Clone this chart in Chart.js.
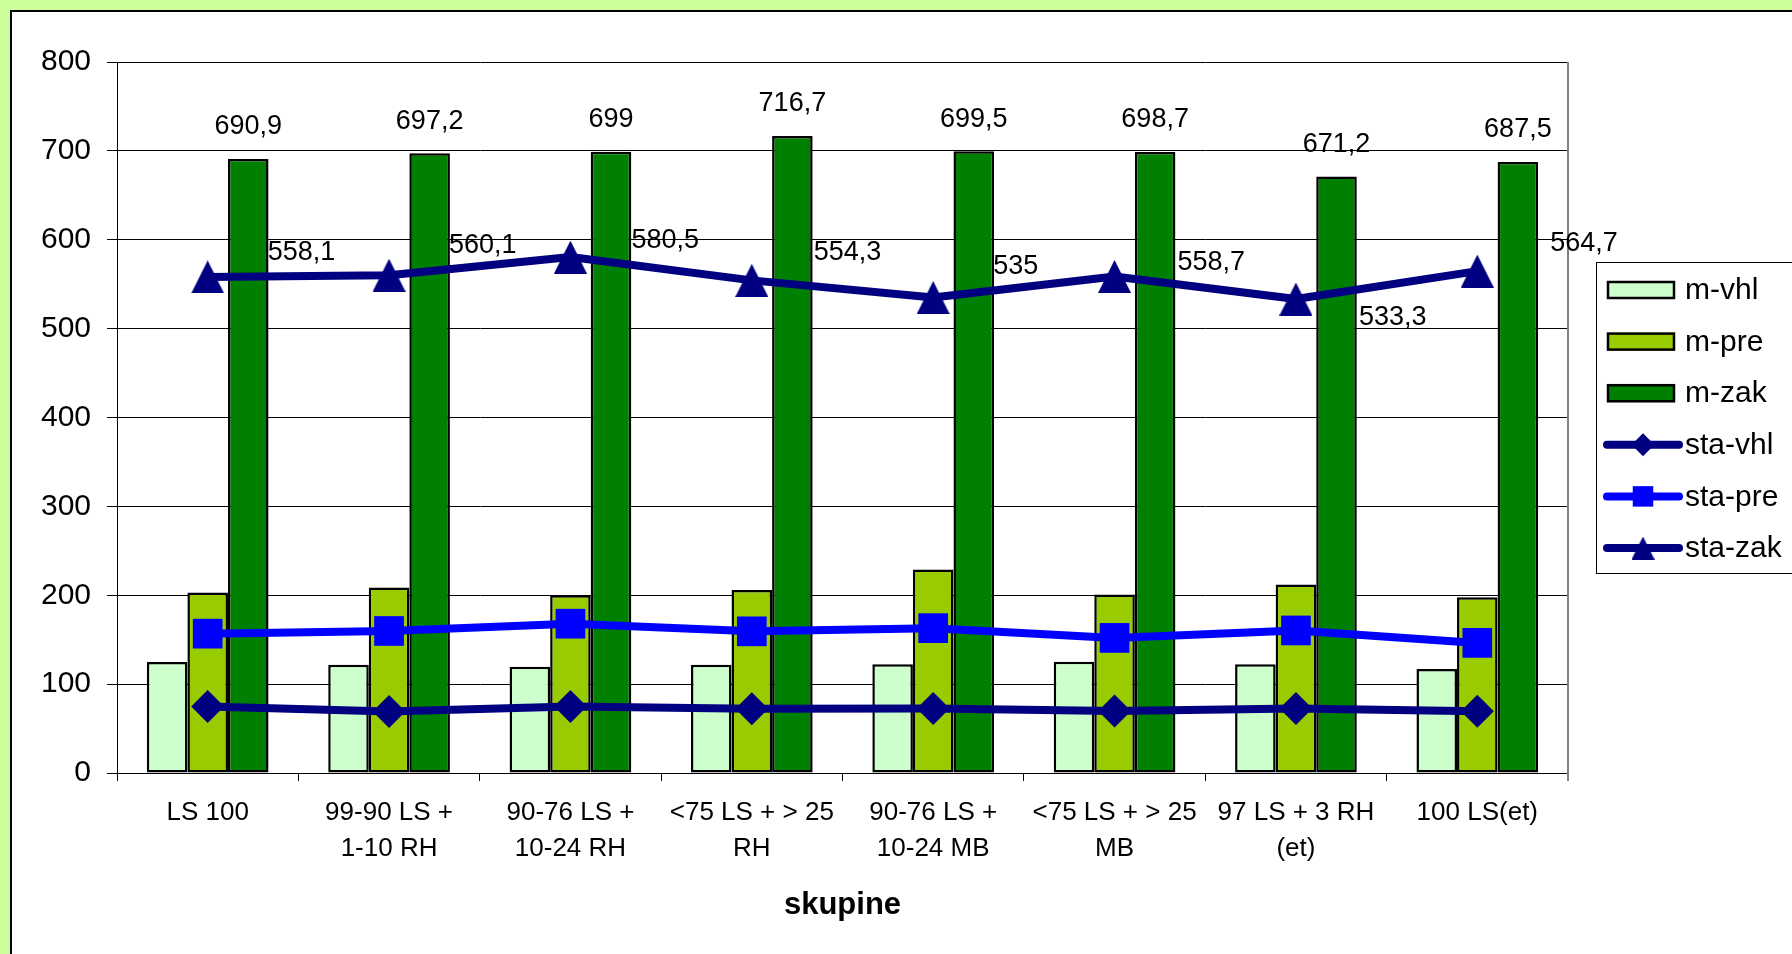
<!DOCTYPE html>
<html><head><meta charset="utf-8">
<script src="https://cdn.jsdelivr.net/npm/chart.js@4.4.1/dist/chart.umd.min.js"></script>
<style>
html,body{margin:0;padding:0;background:#ccff99;width:1792px;height:954px;overflow:hidden;}
#frame{position:absolute;left:10px;top:10px;width:1800px;height:960px;background:#fff;border-left:2px solid #000;border-top:2px solid #000;}
#c{position:absolute;left:0;top:0;}
</style></head><body>
<div id="frame"></div>
<canvas id="c" width="1792" height="954"></canvas>
<script>
// ---- data ----
const categories = [
  ['LS 100'],
  ['99-90 LS +', '1-10 RH'],
  ['90-76 LS +', '10-24 RH'],
  ['<75 LS + > 25', 'RH'],
  ['90-76 LS +', '10-24 MB'],
  ['<75 LS + > 25', 'MB'],
  ['97 LS + 3 RH', '(et)'],
  ['100 LS(et)']
];
const mVhl   = [124.8, 121.8, 119.5, 121.8, 122.3, 125.3, 122.3, 117.0];
const mPre   = [203.0, 208.6, 200.0, 206.0, 229.0, 200.8, 212.0, 197.7];
const mZak   = [690.9, 697.2, 699, 716.7, 699.5, 698.7, 671.2, 687.5];
const staVhl = [74.8, 69.2, 74.8, 72.2, 72.5, 69.8, 72.5, 69.4];
const staPre = [156.8, 159.8, 168.0, 159.4, 163.0, 152.0, 160.4, 146.4];
const staZak = [558.1, 560.1, 580.5, 554.3, 535, 558.7, 533.3, 564.7];
const yTicks = [0, 100, 200, 300, 400, 500, 600, 700, 800];

const FONT = "'Liberation Sans', Arial, sans-serif";

function makeTriangle(size, color) {
  const c = document.createElement('canvas');
  c.width = size; c.height = size;
  const x = c.getContext('2d');
  x.fillStyle = color;
  x.beginPath(); x.moveTo(size / 2, 0); x.lineTo(size, size); x.lineTo(0, size); x.closePath(); x.fill();
  return c;
}
const triBig = makeTriangle(33, '#000080');
const triSmall = makeTriangle(23, '#000080');

const fmt = v => String(v).replace('.', ',');

const valueLabels = {
  id: 'valueLabels',
  afterDatasetsDraw(chart, args, o) {
    const ctx = chart.ctx;
    ctx.save();
    ctx.font = '27px ' + FONT;
    ctx.fillStyle = '#000';
    ctx.textBaseline = 'middle';
    ctx.textAlign = 'center';
    const bm = chart.getDatasetMeta(2);
    bm.data.forEach((el, i) => ctx.fillText(fmt(chart.data.datasets[2].data[i]), el.x, el.y + o.barDy));
    ctx.textAlign = 'left';
    const lm = chart.getDatasetMeta(5);
    lm.data.forEach((el, i) => ctx.fillText(fmt(chart.data.datasets[5].data[i]), el.x + o.dx[i], el.y + o.dy[i]));
    ctx.restore();
  }
};

const plotBorder = {
  id: 'plotBorder',
  beforeDatasetsDraw(chart) {
    const {ctx, chartArea: a} = chart;
    ctx.save();
    ctx.strokeStyle = '#808080';
    ctx.lineWidth = 2;
    ctx.beginPath();
    ctx.moveTo(a.right, a.top);
    ctx.lineTo(a.right, a.bottom + 8);
    ctx.stroke();
    ctx.restore();
  }
};

const boxLegend = {
  id: 'boxLegend',
  afterDraw(chart, args, o) {
    const ctx = chart.ctx;
    ctx.save();
    ctx.fillStyle = '#fff';
    ctx.fillRect(o.left, o.top, 400, o.height);
    ctx.strokeStyle = '#000'; ctx.lineWidth = 1;
    ctx.strokeRect(o.left + 0.5, o.top + 0.5, 400, o.height);
    chart.data.datasets.forEach((ds, i) => {
      const y = o.firstRow + i * o.rowGap;
      if (ds.type === 'bar') {
        ctx.fillStyle = ds.backgroundColor;
        ctx.fillRect(o.swX, y - 9, o.swW, 18);
        ctx.strokeStyle = '#000'; ctx.lineWidth = 2.5;
        ctx.strokeRect(o.swX + 1, y - 8, o.swW - 2, 16);
      } else {
        ctx.strokeStyle = ds.borderColor; ctx.lineWidth = 8; ctx.lineCap = 'round';
        ctx.beginPath(); ctx.moveTo(o.swX, y); ctx.lineTo(o.swX + o.swW + 4, y); ctx.stroke();
        ctx.fillStyle = ds.backgroundColor;
        const cx = o.swX + (o.swW + 4) / 2;
        Chart.helpers.drawPoint(ctx, {pointStyle: ds.legendStyle, radius: ds.legendRadius, borderWidth: 0, rotation: 0}, cx, y);
      }
      ctx.fillStyle = '#000';
      ctx.font = '30px ' + FONT;
      ctx.textAlign = 'left'; ctx.textBaseline = 'middle';
      ctx.fillText(ds.label, o.textX, y + 1);
    });
    ctx.restore();
  }
};

new Chart(document.getElementById('c'), {
  data: {
    labels: categories,
    datasets: [
      {type: 'bar', label: 'm-vhl', data: mVhl, backgroundColor: '#ccffcc', borderColor: '#000', borderWidth: 2.5, borderSkipped: false, order: 2, barPercentage: 1, categoryPercentage: 0.671},
      {type: 'bar', label: 'm-pre', data: mPre, backgroundColor: '#99cc00', borderColor: '#000', borderWidth: 2.5, borderSkipped: false, order: 2, barPercentage: 1, categoryPercentage: 0.671},
      {type: 'bar', label: 'm-zak', data: mZak, backgroundColor: '#008000', borderColor: '#000', borderWidth: 2.5, borderSkipped: false, order: 2, barPercentage: 1, categoryPercentage: 0.671},
      {type: 'line', label: 'sta-vhl', data: staVhl, borderColor: '#000080', backgroundColor: '#000080', borderWidth: 8, pointStyle: 'rectRot', pointRadius: 16.5, pointBorderWidth: 0, order: 1, tension: 0, borderJoinStyle: 'round', borderCapStyle: 'round', legendStyle: 'rectRot', legendRadius: 11.5},
      {type: 'line', label: 'sta-pre', data: staPre, borderColor: '#0000ff', backgroundColor: '#0000ff', borderWidth: 8, pointStyle: 'rect', pointRadius: 21, pointBorderWidth: 0, order: 1, tension: 0, borderJoinStyle: 'round', borderCapStyle: 'round', legendStyle: 'rect', legendRadius: 14.5},
      {type: 'line', label: 'sta-zak', data: staZak, borderColor: '#000080', backgroundColor: '#000080', borderWidth: 8, pointStyle: triBig, pointRadius: 16, pointBorderWidth: 0, order: 1, tension: 0, borderJoinStyle: 'round', borderCapStyle: 'round', legendStyle: triSmall, legendRadius: 11}
    ]
  },
  options: {
    responsive: false, animation: false, devicePixelRatio: 1,
    layout: {padding: {left: 0, top: 62, right: 224, bottom: 0}},
    plugins: {
      legend: {display: false}, tooltip: {enabled: false},
      valueLabels: {barDy: -32, dx: [60, 60, 61, 62, 60, 63, 63, 73], dy: [-24, -30, -17, -28, -31, -14, 19, -28]},
      boxLegend: {left: 1596, top: 262, height: 311, firstRow: 290, rowGap: 51.6, swX: 1607, swW: 68, textX: 1685}
    },
    scales: {
      x: {
        grid: {display: true, drawOnChartArea: false, drawTicks: true, tickLength: 8, color: '#000', offset: true},
        border: {color: '#000', width: 1},
        ticks: {font: {family: FONT, size: 26, lineHeight: 36 / 26}, color: '#000', padding: 14, maxRotation: 0, autoSkip: false},
        title: {display: true, text: 'skupine', font: {family: FONT, size: 31, weight: 'bold', lineHeight: 1.2}, color: '#000', padding: {top: 0, bottom: 30}},
        afterFit(s) { s.height = 181; }
      },
      y: {
        min: 0, max: 800,
        afterBuildTicks(s) { s.ticks = yTicks.map(v => ({value: v})); },
        ticks: {font: {family: FONT, size: 30}, color: '#000', padding: 16},
        grid: {color: '#000', tickLength: 10, lineWidth: 1},
        border: {color: '#000', width: 1},
        afterFit(s) { s.width = 117; }
      }
    }
  },
  plugins: [plotBorder, valueLabels, boxLegend]
});
</script>
</body></html>
